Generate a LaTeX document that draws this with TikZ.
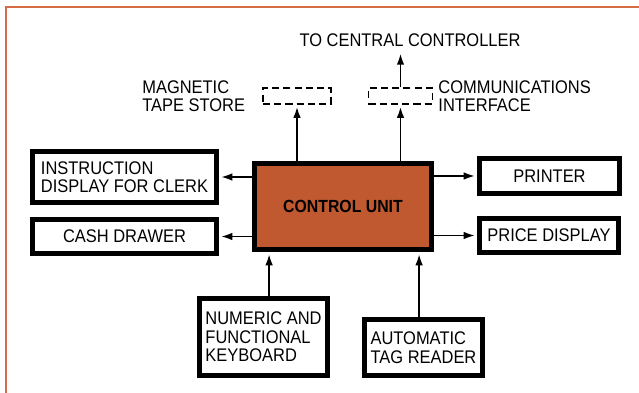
\documentclass[tikz,border=0pt]{standalone}
\usepackage{fontspec}
\setmainfont{Liberation Sans}[FakeStretch=0.9]
\usetikzlibrary{arrows.meta,positioning}
\definecolor{frameorange}{RGB}{214,108,70}
\definecolor{unitbrown}{RGB}{192,88,48}

\begin{document}
\begin{tikzpicture}[
  x=0.025cm, y=-0.025cm,
  box/.style={draw, line width=3.5pt, align=left, inner sep=2pt,
              font=\fontsize{13}{13.2}\selectfont},
  store/.style={draw, dash pattern=on 5pt off 3pt, line width=1.4pt,
                minimum height=0.38cm},
  lbl/.style={align=left, font=\fontsize{13}{13.2}\selectfont},
  arr/.style={-{Latex[length=2.8mm,width=1.9mm]}, line width=1.3pt,
              shorten >=1.5pt},
]
\useasboundingbox (0,0) rectangle (639,393);
\draw[frameorange, line width=1.5pt] (6,393) -- (6,7) -- (639,7);

\node[box, fill=unitbrown, minimum width=4.425cm, minimum height=2.15cm,
      font=\bfseries\fontsize{12.5}{13}\selectfont] (cu) at (343,206.5) {CONTROL UNIT};
\node[box, minimum width=4.6cm, minimum height=1.275cm] (instr) at (124.5,177)
  {INSTRUCTION\\DISPLAY FOR CLERK};
\node[box, minimum width=4.6cm, minimum height=0.85cm] (cash) at (124.5,236.5) {CASH DRAWER};
\node[box, minimum width=3.5cm, minimum height=0.875cm] (prn) at (549.5,176) {PRINTER};
\node[box, minimum width=3.475cm, minimum height=0.85cm] (price) at (549,235.5) {PRICE DISPLAY};
\node[box, minimum width=3.2cm, minimum height=1.925cm] (kbd) at (263.5,337)
  {NUMERIC AND\\FUNCTIONAL\\KEYBOARD};
\node[box, minimum width=2.95cm, minimum height=1.4cm] (tag) at (423.5,347.5)
  {AUTOMATIC\\TAG READER};

% stores drawn dashed
\node[store, minimum width=1.7cm] (tape) at (297,96) {};
\node[store, minimum width=1.6cm] (comm) at (400.5,96) {};
\node[lbl, left=0.3cm of tape] (tapelbl) {MAGNETIC\\TAPE STORE};
\node[lbl, right=0pt of comm] (commlbl) {COMMUNICATIONS\\INTERFACE};
\node[lbl] (ctrl) at (410,40) {TO CENTRAL CONTROLLER};

\draw[arr] (cu.west |- instr) -- (instr.east);
\draw[arr] (cu.west |- cash) -- (cash.east);
\draw[arr] (cu.east |- prn) -- (prn.west);
\draw[arr] (cu.east |- price) -- (price.west);
\draw[arr] (cu.north -| tape) -- (tape.south);
\draw[arr] (cu.north -| comm) -- (comm.south);
\draw[arr] (comm.north) -- (comm.north |- ctrl.south);
\draw[arr] ([xshift=0.14cm]kbd.north) -- ([xshift=0.14cm]kbd.north |- cu.south);
\draw[arr] ([xshift=-0.11cm]tag.north) -- ([xshift=-0.11cm]tag.north |- cu.south);
\end{tikzpicture}
\end{document}
